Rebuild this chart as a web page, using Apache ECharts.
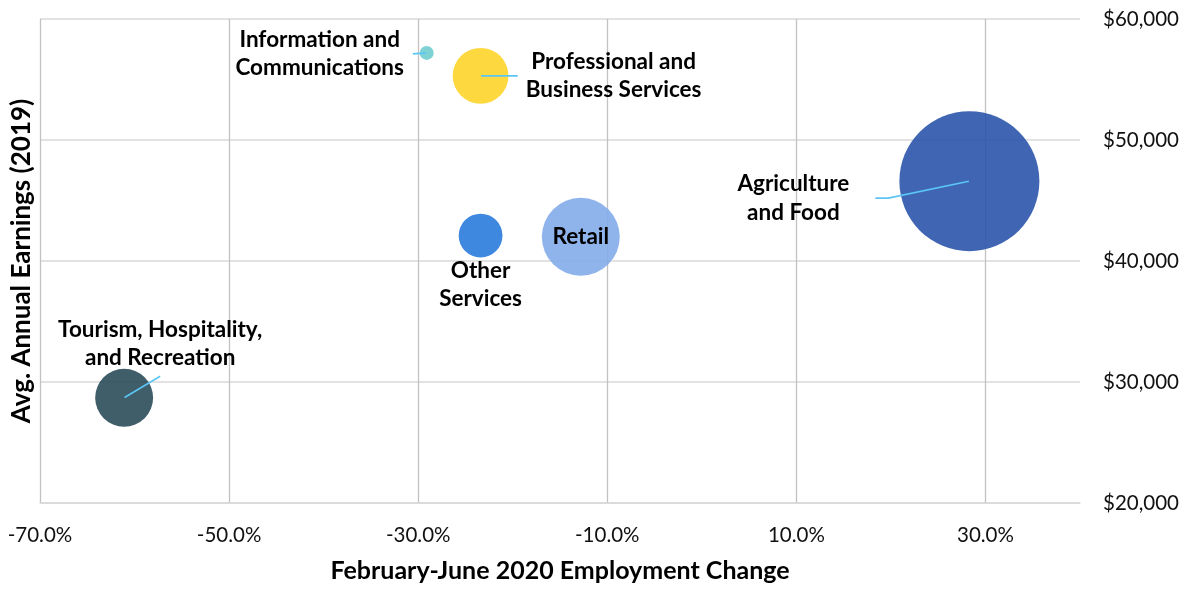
<!DOCTYPE html>
<html><head><meta charset="utf-8">
<script src="https://cdn.jsdelivr.net/npm/echarts@6/dist/echarts.min.js"></script>
<style>html,body{margin:0;padding:0;background:#fff}#c{width:1190px;height:590px}</style>
</head><body><div id="c"></div>
<script>
// ---- data ----
const sectors = [
  'Information and\nCommunications',
  'Professional and\nBusiness Services',
  'Agriculture\nand Food',
  'Other\nServices',
  'Retail',
  'Tourism, Hospitality,\nand Recreation'
];
const employmentChange = [-29.1, -23.4, 28.3, -23.4, -12.8, -61.1];   // % Feb–Jun 2020
const avgEarnings      = [57200, 55300, 46600, 42100, 42000, 28700];  // $ 2019
const employment       = [4.9, 78, 490, 48, 152, 84];                 // bubble size (relative)
const xTicks = [-70, -50, -30, -10, 10, 30];
const xMax = 40;
const yTicks = [20000, 30000, 40000, 50000, 60000];

// ---- styles / layout ----
const palette = ['#71cdcf', '#fed42a', '#2b55ab', '#2a7bdd', '#83acea', '#2a4c59'];
const labelOffsets = [[-107, 1], [133, 0], [-176, 17], [0, 49], [0, 0], [36, -54]];
const labelGuides = [
  {padding: [0, 9], length2: 0},
  {padding: [0, 8], length2: 0},
  {padding: [0, 26], length2: 13},
  null,
  null,
  {padding: [4, 0], length2: 0}
];
const FONT = 'Lato';
const guideColor = '#5bc6f5';

const points = sectors.map((s, i) => [employmentChange[i], avgEarnings[i], employment[i]]);

const bubbleData = points.map((p, i) => ({
  name: sectors[i], value: p,
  itemStyle: {color: palette[i], opacity: 0.9}
}));
const labelData = points.map((p, i) => {
  const g = labelGuides[i];
  const item = {name: sectors[i], value: p};
  if (g) {
    item.label = {padding: g.padding, backgroundColor: 'rgba(255,255,255,0)'};
    item.labelLine = {show: true, length2: g.length2};
  }
  return item;
});

const chart = echarts.init(document.getElementById('c'), null, {renderer: 'canvas'});
chart.setOption({
  animation: false,
  grid: {left: 40, right: 110, top: 19, bottom: 87, outerBoundsMode: 'none'},
  xAxis: {
    type: 'value',
    min: xTicks[0], max: xMax, interval: xTicks[1] - xTicks[0],
    name: 'February-June 2020 Employment Change',
    nameLocation: 'middle', nameGap: 55,
    nameTextStyle: {fontFamily: FONT, fontWeight: 'bold', fontSize: 25, color: '#000'},
    axisLine: {show: true, lineStyle: {color: '#d9d9d9', width: 1.5}},
    axisTick: {show: false},
    axisLabel: {
      margin: 22, showMaxLabel: false,
      fontFamily: FONT, fontSize: 20.5, color: '#111',
      formatter: v => v.toFixed(1) + '%'
    },
    splitLine: {show: true, showMaxLine: false, lineStyle: {color: '#c2c2c2', width: 1.3}}
  },
  yAxis: [{
    type: 'value', position: 'right',
    min: yTicks[0], max: yTicks[yTicks.length - 1], interval: yTicks[1] - yTicks[0],
    axisLine: {show: false}, axisTick: {show: false},
    axisLabel: {
      margin: 23, fontFamily: FONT, fontSize: 20.5, color: '#111',
      formatter: v => '$' + v.toLocaleString('en-US')
    },
    splitLine: {show: true, lineStyle: {color: '#d9d9d9', width: 1.5}}
  }, {
    type: 'value', position: 'left',
    min: yTicks[0], max: yTicks[yTicks.length - 1],
    name: 'Avg. Annual Earnings (2019)',
    nameLocation: 'middle', nameGap: 5, nameRotate: 90,
    nameTextStyle: {fontFamily: FONT, fontWeight: 'bold', fontSize: 26, color: '#000'},
    axisLine: {show: false}, axisTick: {show: false}, axisLabel: {show: false},
    splitLine: {show: false}
  }],
  series: [{
    type: 'scatter', yAxisIndex: 0, silent: true, z: 2,
    symbolSize: v => 2 * Math.sqrt(v[2] * 10),
    data: bubbleData
  }, {
    type: 'scatter', yAxisIndex: 0, silent: true, z: 5,
    symbolSize: 1,
    itemStyle: {color: 'rgba(0,0,0,0)', opacity: 1},
    label: {
      show: true, position: 'inside', align: 'center', verticalAlign: 'middle',
      formatter: p => p.name, opacity: 1,
      fontFamily: FONT, fontWeight: 700, fontSize: 22.5, lineHeight: 28.5, color: '#000000',
      textBorderWidth: 0, textBorderColor: 'transparent'
    },
    emphasis: {disabled: true},
    labelLine: {show: false, lineStyle: {color: guideColor, width: 1.6}},
    labelLayout: p => ({dx: labelOffsets[p.dataIndex][0], dy: labelOffsets[p.dataIndex][1]}),
    data: labelData
  }]
});
</script>
</body></html>
